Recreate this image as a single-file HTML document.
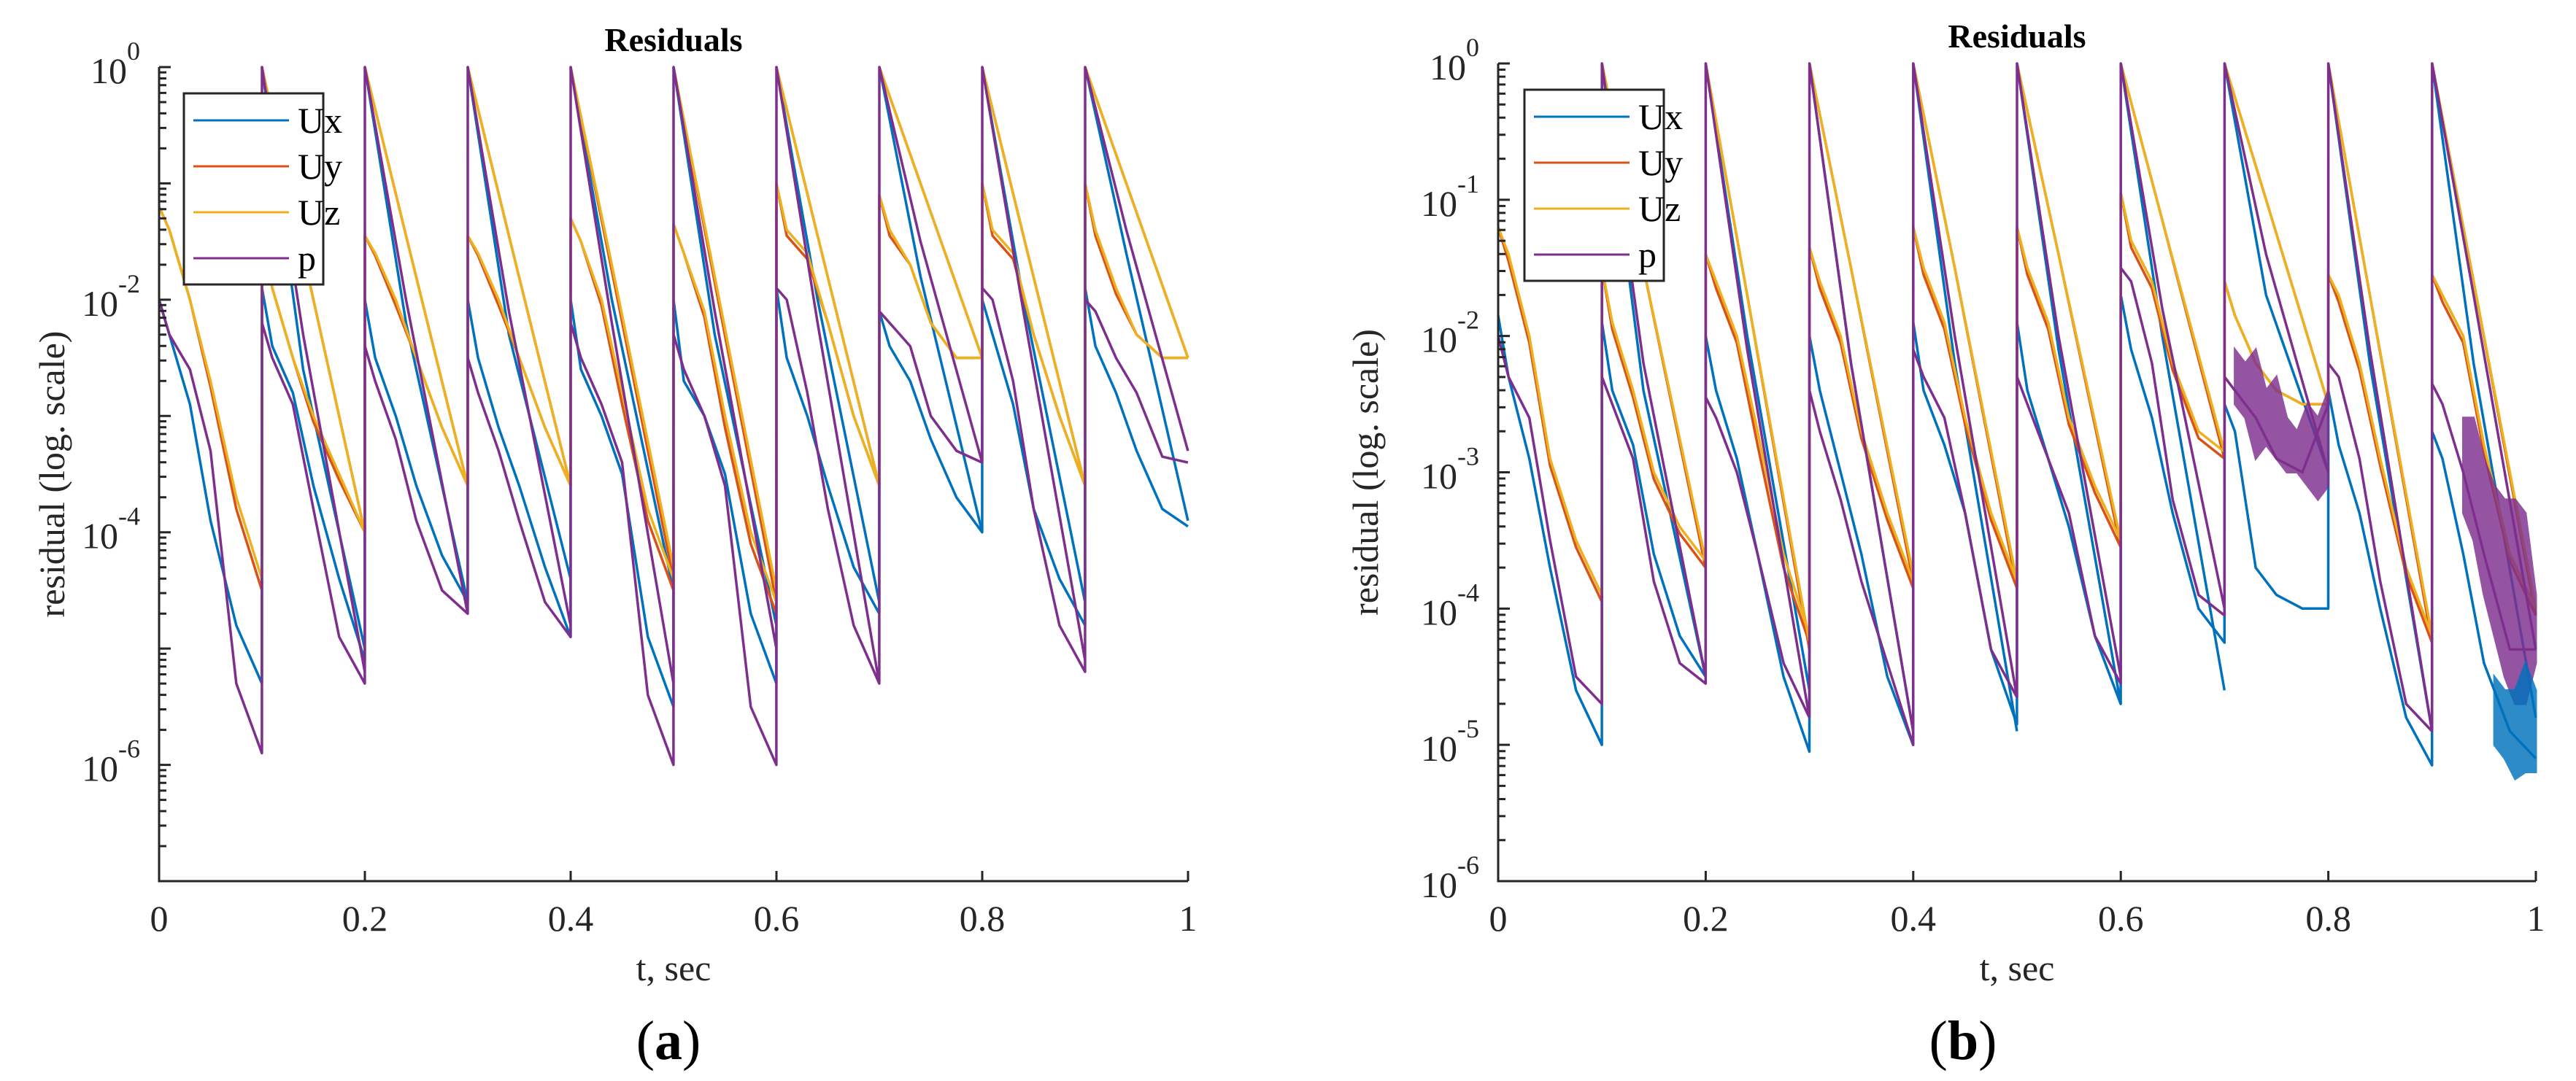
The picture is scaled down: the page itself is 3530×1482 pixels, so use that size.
<!DOCTYPE html>
<html><head><meta charset="utf-8"><style>
html,body{margin:0;padding:0;background:#fff;}
svg{display:block;font-family:"Liberation Serif",serif;}
</style></head><body>
<svg id="fig" width="3530" height="1482" viewBox="0 0 3530 1482" xmlns="http://www.w3.org/2000/svg"></svg>
<script>
// ---- data (log10 residual) ----
const SERIES = ['Ux','Uy','Uz','p'];
const COLORS = ['#0072BD','#D95319','#EDB120','#7E2F8E'];
const LO_OFFS = [0,0.01,0.03,0.05,0.075,0.0999];
const HI_OFFS = [0,0.04,0.0999];
const SEG_STARTS = [0,0.1,0.2,0.3,0.4,0.5,0.6,0.7,0.8,0.9];

// Panel (a)
const A_Ux_lo = [[-2.0,-2.3,-2.9,-3.9,-4.8,-5.3],[-1.9,-2.4,-2.8,-3.6,-4.4,-5.1],[-2.0,-2.5,-3.0,-3.6,-4.2,-4.6],[-2.0,-2.5,-3.1,-3.6,-4.3,-4.9],[-2.0,-2.6,-3.0,-3.5,-4.9,-5.5],[-2.0,-2.7,-3.0,-3.5,-4.7,-5.3],[-1.9,-2.5,-3.0,-3.6,-4.3,-4.7],[-2.1,-2.4,-2.7,-3.2,-3.7,-4.0],[-2.0,-2.3,-2.9,-3.8,-4.4,-4.8],[-1.9,-2.4,-2.8,-3.3,-3.8,-3.95]];
const A_Ux_hi = [null,[0,-2.6,-5.0],[0,-2.2,-4.6],[0,-2.3,-4.4],[0,-2.0,-4.5],[0,-2.3,-4.8],[0,-2.0,-4.6],[0,-1.8,-4.0],[0,-2.0,-4.6],[0,-1.6,-3.9]];
const A_Uy_lo = [[-1.2,-1.4,-2.0,-2.75,-3.8,-4.5],[-1.3,-1.9,-2.5,-3.05,-3.55,-4.0],[-1.45,-1.62,-2.05,-2.5,-3.1,-3.6],[-1.45,-1.62,-2.05,-2.5,-3.1,-3.6],[-1.3,-1.5,-2.05,-2.9,-3.9,-4.5],[-1.35,-1.6,-2.15,-3.1,-4.1,-4.7],[-1.0,-1.45,-1.65,-2.2,-3.0,-3.6],[-1.1,-1.45,-1.7,-2.2,-2.5,-2.5],[-1.0,-1.45,-1.65,-2.3,-3.0,-3.6],[-1.0,-1.45,-1.95,-2.3,-2.5,-2.5]];
const A_Uy_hi = [null,[0,-1.6,-4.0],[0,-1.45,-3.6],[0,-1.45,-3.6],[0,-1.75,-4.4],[0,-1.85,-4.6],[0,-1.45,-3.6],[0,-1.0,-2.5],[0,-1.45,-3.6],[0,-1.0,-2.5]];
const A_Uz_lo = [[-1.2,-1.4,-2.0,-2.7,-3.7,-4.4],[-1.3,-1.9,-2.5,-3.0,-3.5,-4.0],[-1.45,-1.6,-2.0,-2.5,-3.1,-3.6],[-1.45,-1.6,-2.0,-2.5,-3.1,-3.6],[-1.3,-1.5,-2.0,-2.8,-3.8,-4.4],[-1.35,-1.6,-2.1,-3.0,-4.0,-4.6],[-1.0,-1.4,-1.6,-2.2,-3.0,-3.6],[-1.1,-1.4,-1.7,-2.2,-2.5,-2.5],[-1.0,-1.4,-1.6,-2.3,-3.0,-3.6],[-1.0,-1.4,-1.9,-2.3,-2.5,-2.5]];
const A_Uz_hi = [null,[0,-1.6,-4.0],[0,-1.45,-3.6],[0,-1.45,-3.6],[0,-1.7,-4.3],[0,-1.8,-4.5],[0,-1.45,-3.6],[0,-1.0,-2.5],[0,-1.45,-3.6],[0,-1.0,-2.5]];
const A_p_lo = [[-2.0,-2.3,-2.6,-3.3,-5.3,-5.9],[-2.2,-2.5,-2.9,-3.8,-4.9,-5.3],[-2.4,-2.7,-3.2,-3.9,-4.5,-4.7],[-2.5,-2.8,-3.3,-3.9,-4.6,-4.9],[-2.2,-2.5,-2.9,-3.4,-5.4,-6.0],[-2.3,-2.6,-3.0,-3.6,-5.5,-6.0],[-1.9,-2.0,-2.8,-3.8,-4.8,-5.3],[-2.1,-2.2,-2.4,-3.0,-3.3,-3.4],[-1.9,-2.0,-2.7,-3.8,-4.8,-5.2],[-2.0,-2.1,-2.5,-2.8,-3.35,-3.4]];
const A_p_hi = [null,[0,-2.3,-5.2],[0,-2.0,-4.7],[0,-2.1,-4.8],[0,-2.2,-5.3],[0,-2.1,-5.0],[0,-2.2,-5.3],[0,-1.5,-3.4],[0,-2.1,-5.1],[0,-1.4,-3.3]];

// Panel (b)
const B_Ux_lo = [[-1.85,-2.3,-2.9,-3.7,-4.6,-5.0],[-1.9,-2.4,-2.8,-3.6,-4.2,-4.5],[-2.0,-2.4,-2.9,-3.6,-4.5,-5.05],[-2.0,-2.4,-3.0,-3.6,-4.5,-5.0],[-1.9,-2.4,-2.8,-3.3,-4.3,-4.85],[-1.9,-2.4,-2.9,-3.4,-4.2,-4.7],[-1.7,-2.1,-2.6,-3.3,-4.0,-4.25],[-2.5,-2.7,-3.7,-3.9,-4.0,-4.0],[-2.4,-2.8,-3.3,-4.0,-4.8,-5.15],[-2.7,-2.9,-3.6,-4.4,-4.9,-5.1]];
const B_Ux_hi = [null,[0,-2.4,-4.5],[0,-2.0,-4.6],[0,-2.2,-4.9],[0,-2.2,-4.9],[0,-2.1,-4.7],[0,-2.0,-4.6],[0,-1.7,-3.0],[0,-2.2,-4.9],[0,-2.2,-4.8]];
const B_Uy_lo = [[-1.2,-1.45,-2.05,-2.95,-3.55,-3.95],[-1.5,-1.95,-2.45,-3.05,-3.45,-3.7],[-1.4,-1.65,-2.05,-2.8,-3.7,-4.25],[-1.35,-1.65,-2.05,-2.75,-3.35,-3.85],[-1.2,-1.55,-1.95,-2.65,-3.35,-3.85],[-1.2,-1.55,-1.95,-2.65,-3.15,-3.55],[-0.95,-1.35,-1.65,-2.25,-2.75,-2.9],[-1.6,-1.85,-2.2,-2.4,-2.5,-2.5],[-1.55,-1.75,-2.25,-2.95,-3.75,-4.25],[-1.55,-1.75,-2.05,-2.85,-3.65,-4.05]];
const B_Uy_hi = [null,[0,-1.5,-3.7],[0,-1.7,-4.3],[0,-1.5,-3.8],[0,-1.5,-3.85],[0,-1.4,-3.55],[0,-1.15,-2.9],[0,-1.0,-2.5],[0,-1.7,-4.25],[0,-1.6,-4.05]];
const B_Uz_lo = [[-1.2,-1.4,-2.0,-2.9,-3.5,-3.9],[-1.5,-1.9,-2.4,-3.0,-3.4,-3.65],[-1.4,-1.6,-2.0,-2.7,-3.6,-4.2],[-1.35,-1.6,-2.0,-2.7,-3.3,-3.8],[-1.2,-1.5,-1.9,-2.6,-3.3,-3.8],[-1.2,-1.5,-1.9,-2.6,-3.1,-3.5],[-0.95,-1.3,-1.6,-2.2,-2.7,-2.85],[-1.6,-1.85,-2.2,-2.4,-2.5,-2.5],[-1.55,-1.7,-2.2,-2.9,-3.7,-4.2],[-1.55,-1.7,-2.0,-2.8,-3.6,-4.0]];
const B_Uz_hi = [null,[0,-1.5,-3.65],[0,-1.7,-4.25],[0,-1.5,-3.75],[0,-1.5,-3.8],[0,-1.4,-3.5],[0,-1.15,-2.85],[0,-1.0,-2.5],[0,-1.7,-4.2],[0,-1.6,-4.0]];
const B_p_lo = [[-2.0,-2.3,-2.6,-3.5,-4.5,-4.7],[-2.3,-2.5,-2.9,-3.8,-4.4,-4.55],[-2.45,-2.6,-3.0,-3.6,-4.4,-4.8],[-2.4,-2.7,-3.2,-3.8,-4.4,-5.0],[-2.1,-2.3,-2.6,-3.3,-4.3,-4.65],[-2.3,-2.5,-2.9,-3.3,-4.2,-4.55],[-1.5,-1.6,-2.2,-3.2,-3.9,-4.05],[-2.3,-2.4,-2.6,-2.9,-3.0,-2.5],[-2.2,-2.3,-2.9,-3.8,-4.7,-4.9],[-2.35,-2.5,-3.0,-3.6,-4.3,-4.3]];
const B_p_hi = [null,[0,-2.2,-4.5],[0,-2.1,-4.8],[0,-2.2,-4.9],[0,-2.0,-4.65],[0,-2.0,-4.5],[0,-1.8,-4.0],[0,-1.4,-3.0],[0,-2.1,-4.9],[0,-1.7,-4.3]];

// noisy envelopes in panel (b): t, upper, lower (log10)
const B_pNoise_t = [0.71,0.72,0.73,0.74,0.75,0.76,0.77,0.78,0.79,0.80];
const B_pNoise_up = [-2.1,-2.2,-2.1,-2.4,-2.3,-2.6,-2.7,-2.5,-2.6,-2.4];
const B_pNoise_lo = [-2.5,-2.6,-2.9,-2.8,-2.9,-3.0,-3.0,-3.1,-3.2,-3.1];
const B_pNoise2_t = [0.93,0.94,0.95,0.96,0.97,0.98,0.99,1.0];
const B_pNoise2_up = [-2.6,-2.6,-2.9,-3.1,-3.2,-3.2,-3.3,-3.9];
const B_pNoise2_lo = [-3.3,-3.5,-3.9,-4.2,-4.5,-4.7,-4.7,-4.4];
const B_uNoise_t = [0.96,0.97,0.98,0.99,1.0];
const B_uNoise_up = [-4.5,-4.6,-4.6,-4.4,-4.6];
const B_uNoise_lo = [-5.0,-5.1,-5.25,-5.2,-5.2];

const PANELS = [
 {id:'a', x0:218, x1:1628, y0:92, y1:1208, lmin:-7, labels:[0,-2,-4,-6],
  data:{Ux:[A_Ux_lo,A_Ux_hi],Uy:[A_Uy_lo,A_Uy_hi],Uz:[A_Uz_lo,A_Uz_hi],p:[A_p_lo,A_p_hi]},
  leg:{x:252,y:128,w:191,h:262}, ylabX:72, sub:'(a)', subX:916},
 {id:'b', x0:2053, x1:3475, y0:87, y1:1208, lmin:-6, labels:[0,-1,-2,-3,-4,-5,-6],
  data:{Ux:[B_Ux_lo,B_Ux_hi],Uy:[B_Uy_lo,B_Uy_hi],Uz:[B_Uz_lo,B_Uz_hi],p:[B_p_lo,B_p_hi]},
  leg:{x:2089,y:123,w:191,h:262}, ylabX:1872, sub:'(b)', subX:2690}
];
const XTICKS = [0,0.2,0.4,0.6,0.8,1];
const XTICK_LABELS = ['0','0.2','0.4','0.6','0.8','1'];

const NS='http://www.w3.org/2000/svg';
const svg=document.getElementById('fig');
function mk(tag,attrs,parent){const e=document.createElementNS(NS,tag);for(const k in attrs)e.setAttribute(k,attrs[k]);(parent||svg).appendChild(e);return e;}

PANELS.forEach(P=>{
  const g=mk('g',{});
  
  
  const sx=t=>P.x0+(P.x1-P.x0)*t;
  const sy=l=>P.y0+(P.y1-P.y0)*(0-l)/(0-P.lmin);
  const clip=mk('clipPath',{id:'clip'+P.id},g);
  mk('rect',{x:P.x0,y:P.y0-2,width:P.x1-P.x0+2,height:P.y1-P.y0+2},clip);
  const plot=mk('g',{'clip-path':'url(#clip'+P.id+')'},g);
  
  
  SERIES.forEach((s,si)=>{
    const [lo,hi]=P.data[s];
    let pts=[];
    lo.forEach((seg,k)=>{
      if(k>0 && s==='p'){pts.push([sx(SEG_STARTS[k]),sy(0)]);}
      seg.forEach((v,j)=>pts.push([sx(SEG_STARTS[k]+LO_OFFS[j]),sy(v)]));
    });
    const pl=mk('polyline',{points:pts.map(p=>p[0].toFixed(1)+','+p[1].toFixed(1)).join(' '),fill:'none',stroke:COLORS[si],'stroke-width':3.5,'stroke-linejoin':'round'},plot);
    
    
    hi.forEach((seg,k)=>{
      if(!seg)return;
      const hp=seg.map((v,j)=>sx(SEG_STARTS[k]+HI_OFFS[j]).toFixed(1)+','+sy(v).toFixed(1));
      const h=mk('polyline',{points:hp.join(' '),fill:'none',stroke:COLORS[si],'stroke-width':3.5},plot);
      
      
    });
  });
  if(P.id==='b'){
    [[B_pNoise_t,B_pNoise_up,B_pNoise_lo,COLORS[3]],[B_pNoise2_t,B_pNoise2_up,B_pNoise2_lo,COLORS[3]],[B_uNoise_t,B_uNoise_up,B_uNoise_lo,COLORS[0]]].forEach(([T,U,L,c])=>{
      const a=T.map((t,i)=>sx(t).toFixed(1)+','+sy(U[i]).toFixed(1));
      const b=T.map((t,i)=>sx(t).toFixed(1)+','+sy(L[i]).toFixed(1)).reverse();
      const n=mk('polygon',{points:a.concat(b).join(' '),fill:c,stroke:c,'stroke-width':3,opacity:0.82},plot);
      
      
    });
  }
  // axes
  const ax=mk('path',{d:`M${P.x0},${P.y0} V${P.y1} H${P.x1}`,fill:'none',stroke:'#262626','stroke-width':3},g);
  
  
  let tk='';
  for(let d=0;d>P.lmin;d--){
    tk+=`M${P.x0},${sy(d)}h16`;
    for(let m=2;m<=9;m++){const y=sy(d-1+Math.log10(m));tk+=`M${P.x0},${y.toFixed(1)}h10`;}
  }
  tk+=`M${P.x0},${sy(P.lmin)}h16`;
  XTICKS.forEach(t=>{tk+=`M${sx(t)},${P.y1}v-14`;});
  const tks=mk('path',{d:tk,stroke:'#262626','stroke-width':3,fill:'none'},g);
  
  
  P.labels.forEach(l=>{
    const t=mk('text',{x:P.x0-26,y:sy(l)+22,'text-anchor':'end','font-size':50,fill:'#262626'},g);
    
    
    t.appendChild(document.createTextNode('10'));
    const e=mk('tspan',{dy:-32,'font-size':36},t);e.textContent=String(l);
  });
  XTICKS.forEach((t,i)=>{
    const tx=mk('text',{x:sx(t),y:1276,'text-anchor':'middle','font-size':50,fill:'#262626'},g);
    
    
    tx.textContent=XTICK_LABELS[i];
  });
  const cx=(P.x0+P.x1)/2;
  const ti=mk('text',{x:cx,y:P.y0-22,'text-anchor':'middle','font-size':46,'font-weight':'bold'},g);
  ti.textContent='Residuals';
  const xl=mk('text',{x:cx,y:1344,'text-anchor':'middle','font-size':50,fill:'#262626'},g);
  xl.textContent='t, sec';
  const cy=(P.y0+P.y1)/2;
  const yl=mk('text',{x:P.ylabX,y:cy,'text-anchor':'middle','font-size':50,fill:'#262626',transform:`rotate(-90 ${P.ylabX} ${cy}) translate(0 16)`},g);
  yl.textContent='residual (log. scale)';
  const sb=mk('text',{x:P.subX,y:1452,'text-anchor':'middle','font-size':76},g);
  
  sb.appendChild(document.createTextNode('('));
  const bb=mk('tspan',{'font-weight':'bold'},sb);bb.textContent=P.sub.slice(1,2);
  sb.appendChild(document.createTextNode(')'));
  // legend
  const L=P.leg;
  const lg=mk('g',{},g);
  
  mk('rect',{x:L.x,y:L.y,width:L.w,height:L.h,fill:'#fff',stroke:'#262626','stroke-width':3},lg);
  SERIES.forEach((s,i)=>{
    const y=L.y+37+i*63;
    const e=mk('g',{},lg);
    
    mk('line',{x1:L.x+13,x2:L.x+144,y1:y,y2:y,stroke:COLORS[i],'stroke-width':3},e);
    const t=mk('text',{x:L.x+156,y:y+17,'font-size':50,fill:'#000'},e);t.textContent=s;
  });
});
</script>
</body></html>
